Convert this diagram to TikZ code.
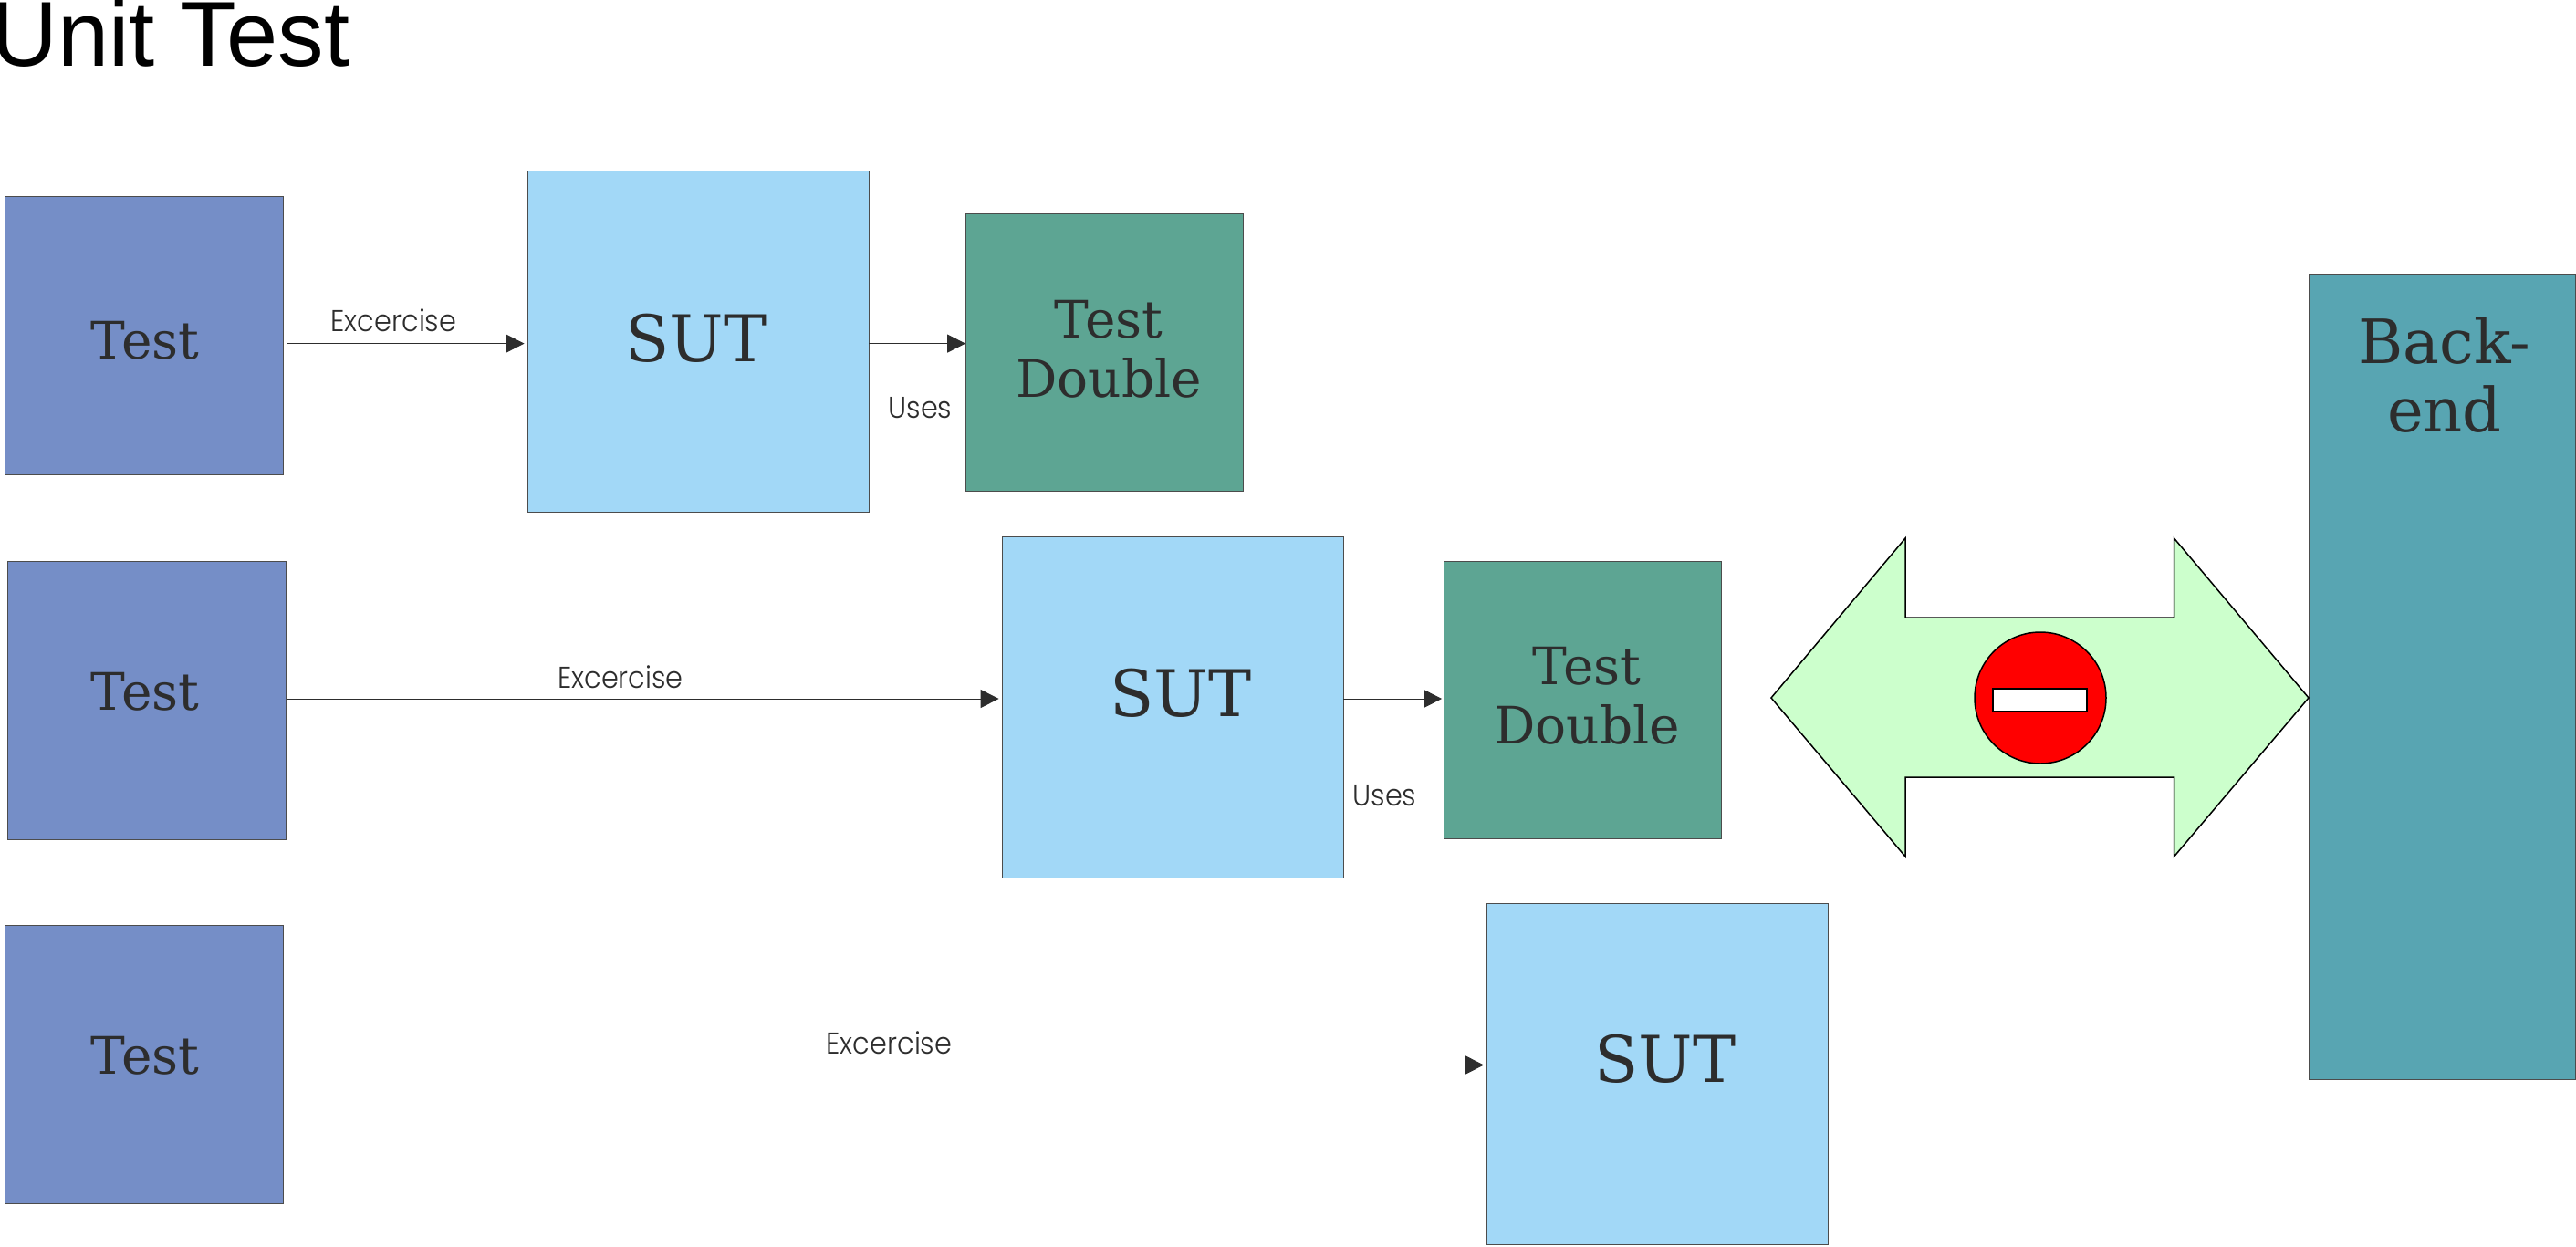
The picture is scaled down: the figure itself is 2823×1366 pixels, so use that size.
\documentclass[tikz,border=0pt]{standalone}
\usepackage{fontspec}
\usepackage{tikz}
\usetikzlibrary{arrows.meta}
\newfontfamily\titlefont{Liberation Sans}
\newfontfamily\boxfont{DejaVu Serif}
\newfontfamily\labelfont[FakeStretch=0.92]{Poppins Light}
\definecolor{testblue}{RGB}{117,142,199}
\definecolor{sutblue}{RGB}{162,216,247}
\definecolor{doublegreen}{RGB}{93,165,147}
\definecolor{backendteal}{RGB}{88,165,178}
\definecolor{stopgreen}{RGB}{204,255,204}
\definecolor{inkgrey}{RGB}{45,45,45}

\begin{document}
\begin{tikzpicture}
		[
		x=0.5pt, y=-0.5pt,
		flow/.style={draw=inkgrey, line width=0.5pt, -{Triangle[length=10pt,width=10pt]}},
		box/.style={rectangle, draw=black!70, line width=0.4pt, inner sep=0},
		test box/.style={box, fill=testblue, minimum width=152.5pt, minimum height=152.5pt},
		sut box/.style={box, fill=sutblue, minimum width=187pt, minimum height=187pt},
		double box/.style={box, fill=doublegreen, minimum width=152pt, minimum height=152pt},
		small text/.style={anchor=base, inner sep=0, text=inkgrey, font=\labelfont\fontsize{16.5}{20}\selectfont},
		test text/.style={anchor=base, inner sep=0, text=inkgrey, font=\boxfont\fontsize{28.3}{32.5}\selectfont, align=center},
		sut text/.style={anchor=base, inner sep=0, text=inkgrey, font=\boxfont\fontsize{35.3}{40}\selectfont},
		backend text/.style={anchor=base, inner sep=0, text=inkgrey, font=\boxfont\fontsize{33.5}{37.5}\selectfont, align=center}
		]
		\useasboundingbox (0,0) rectangle (2823,1366);
		
		% Height of each row of connectors
		\coordinate (row1) at (0,376.6);
		\coordinate (row2) at (0,766);
		\coordinate (row3) at (0,1167.5);
		
		\node(title)[anchor=base west, inner sep=0, font=\titlefont\fontsize{50.5}{60}\selectfont]at(-10,72.7){Unit Test};
		
		% The boxes
		\node(test1)[test box]at(157.5,367.5){};
		\node(sut1)[sut box]at(765,374.5){};
		\node(double1)[double box]at(1210.5,386){};
		\node(test2)[test box]at(161,767.5){};
		\node(sut2)[sut box]at(1285,775.5){};
		\node(double2)[double box]at(1734.5,767.5){};
		\node(test3)[test box]at(157.5,1167){};
		\node(sut3)[sut box]at(1816.5,1177){};
		\node(backend)[box, fill=backendteal, minimum width=146pt, minimum height=441.5pt]at(2676,741.5){};
		
		% Texts of the boxes
		\node(test1 text)[test text]at(159,393){Test};
		\node(test2 text)[test text]at(159,778){Test};
		\node(test3 text)[test text]at(159,1177.5){Test};
		\node(sut1 text)[sut text]at(763,396){SUT};
		\node(sut2 text)[sut text]at(1294,785.5){SUT};
		\node(sut3 text)[sut text]at(1825,1186.5){SUT};
		\node(double1 text)[test text]at(1215,435.5){Test\\Double};
		\node(double2 text)[test text]at(1739,815.6){Test\\Double};
		\node(backend name)[backend text]at(2679,473){Back-\\end};
		
		% The connectors
		\draw[flow, shorten <=2pt, shorten >=1.5pt](test1.east |- row1)--(sut1.west |- row1);
		\draw[flow](sut1.east |- row1)--(double1.west |- row1);
		\draw[flow, shorten >=1.5pt](test2.east |- row2)--(sut2.west |- row2);
		\draw[flow, shorten >=1pt](sut2.east |- row2)--(double2.west |- row2);
		\draw[flow, shorten <=1.5pt, shorten >=1.5pt](test3.east |- row3)--(sut3.west |- row3);
		
		% Labels of the connectors
		\node(exercise1)[small text]at(431.5,363.5){Excercise};
		\node(uses1)[small text]at(1008.5,458){Uses};
		\node(exercise2)[small text]at(680,754){Excercise};
		\node(uses2)[small text]at(1517.5,883){Uses};
		\node(exercise3)[small text]at(974.5,1155.5){Excercise};
		
		% The blocked double arrow
		\draw[fill=stopgreen, line width=0.75pt, line join=miter]
			(1941,765)--(2088,590)--(2088,677)--(2382.5,677)--(2382.5,590)--(2530,765)
			--(2382.5,939)--(2382.5,852)--(2088,852)--(2088,939)--cycle;
		\node(stop)[circle, draw, fill=red, line width=0.75pt, inner sep=0, minimum size=72pt]at(2236,765){};
		\node(bar)[rectangle, draw, fill=white, line width=0.75pt, inner sep=0, minimum width=51.5pt, minimum height=12.5pt]at(2235.5,767.5){};
		
		\end{tikzpicture}
\end{document}
